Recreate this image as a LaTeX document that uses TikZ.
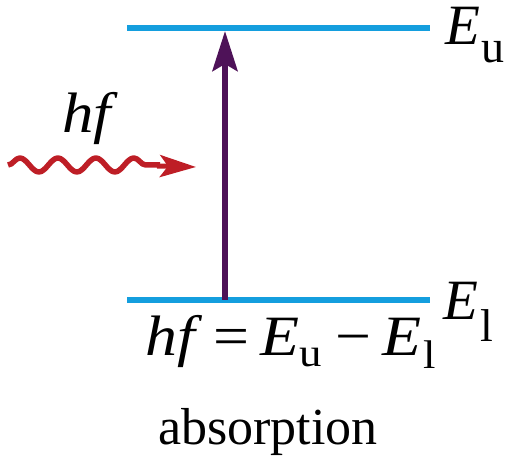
\documentclass[tikz,border=0pt]{standalone}
\usepackage{fontspec}
\setmainfont{Liberation Serif}
\usetikzlibrary{arrows.meta,decorations.pathmorphing}
\definecolor{lvlblue}{RGB}{20,158,222}
\definecolor{arrpurple}{RGB}{78,18,88}
\definecolor{wavered}{RGB}{190,30,38}
\newcommand{\mysubs}[3][46]{\raisebox{-#2}{\fontsize{#1}{#1}\selectfont #3}}
\begin{document}
\begin{tikzpicture}[x=1pt,y=-1pt,
  level/.style={draw=lvlblue,line width=5.5pt},
  lbl/.style={inner sep=0pt,font=\fontsize{57}{60}\selectfont},
  trans/.style={draw=arrpurple,line width=6pt,-{Stealth[length=40pt,width=25pt,inset=7pt]}},
  photon/.style={draw=wavered,line width=5.5pt,line join=round,decorate,
    decoration={snake,amplitude=7pt,segment length=38pt}},
  photonhead/.style={draw=wavered,line width=5pt,-{Stealth[length=36pt,width=22pt,inset=8pt]}}]
\useasboundingbox (0,0) rectangle (507,465);
\coordinate (uL) at (127,28);
\coordinate (uR) at (430,28);
\coordinate (lL) at (127,300);
\coordinate (lR) at (430,300);
\coordinate (tb) at (225,300);
\coordinate (tt) at (225,31);
\coordinate (ws) at (8,165);
\coordinate (wm) at (160,165);
\coordinate (wh) at (157,166);
\coordinate (we) at (196,167);
\draw[level] (uL) -- (uR);
\draw[level] (lL) -- (lR);
\draw[trans] (tb) -- (tt);
\draw[photon] (ws) -- (wm);
\draw[photonhead] (wh) -- (we);
\node[lbl,anchor=base west] (Eu) at (445,45) {\textit{E}\kern1pt\mysubs{18pt}{u}};
\node[lbl,anchor=base west] (El) at (443,320) {\textit{E}\kern2pt\mysubs{22pt}{l}};
\node[lbl,anchor=base west] (hf) at (62,133) {\scalebox{1.1}[1]{\textit{hf}}};
\node[lbl,anchor=base west] (eq) at (145,356) {\scalebox{1.12}[1]{\textit{hf}\kern10pt=\kern10pt\textit{E}\kern0pt\mysubs[40]{11pt}{u}\kern12pt−\kern10pt\textit{E}\kern2pt\mysubs[40]{13pt}{l}}};
\node[inner sep=0pt,anchor=base,font=\fontsize{52}{60}\selectfont] (abs) at (268,445) {absorption};
\end{tikzpicture}
\end{document}
